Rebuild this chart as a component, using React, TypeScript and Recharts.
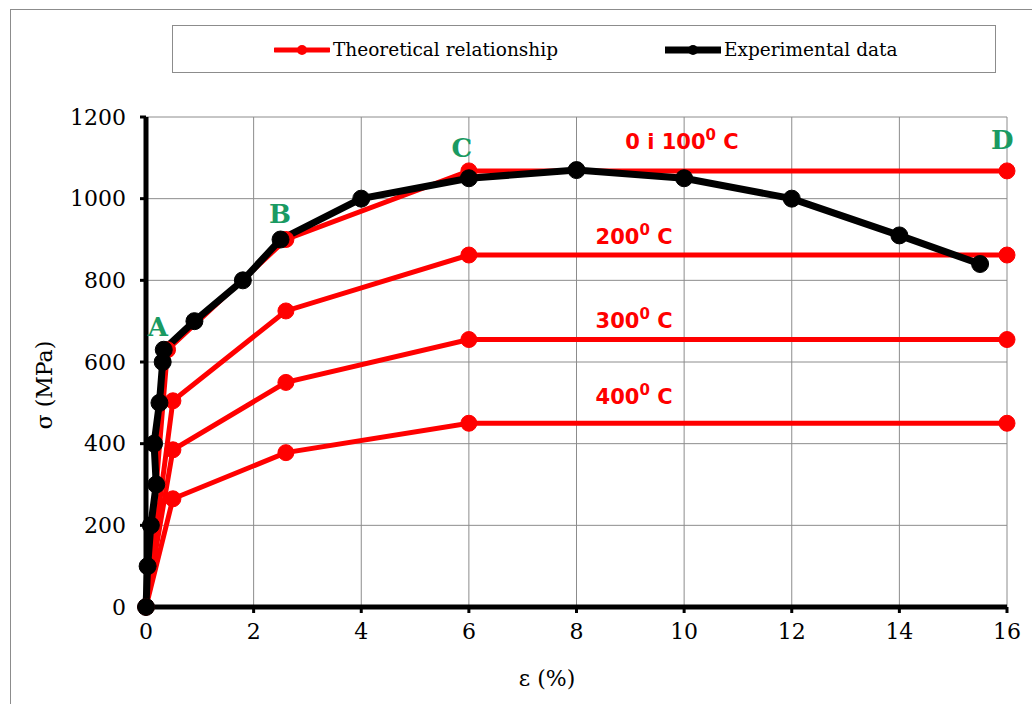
import {
  LineChart, Line, XAxis, YAxis, CartesianGrid, ReferenceDot,
} from 'recharts';

// strain (%) / stress (MPa)
const expStrain = [0, 0.03, 0.09, 0.19, 0.15, 0.25, 0.31, 0.33, 0.9, 1.8, 2.5, 4, 6, 8, 10, 12, 14, 15.5];
const expStress = [0, 100, 200, 300, 400, 500, 600, 630, 700, 800, 900, 1000, 1050, 1070, 1050, 1000, 910, 840];

const theoStrain100 = [0, 0.4, 2.6, 6, 16];
const theoStress100 = [0, 630, 900, 1068, 1068];
const theoStrain = [0, 0.5, 2.6, 6, 16];
const theoStress200 = [0, 505, 725, 862, 862];
const theoStress300 = [0, 385, 550, 655, 655];
const theoStress400 = [0, 265, 378, 450, 450];

const xTicks = [0, 2, 4, 6, 8, 10, 12, 14, 16];
const yTicks = [0, 200, 400, 600, 800, 1000, 1200];

const pointLabels = [
  { text: 'A', x: 0.22, y: 686 },
  { text: 'B', x: 2.49, y: 962 },
  { text: 'C', x: 5.87, y: 1124 },
  { text: 'D', x: 15.91, y: 1144 },
];
const tempLabels = [
  { main: '0 i 100', x: 9.96, y: 1139 },
  { main: '200', x: 9.07, y: 906 },
  { main: '300', x: 9.07, y: 700 },
  { main: '400', x: 9.07, y: 514 },
];

const toRows = (xs: number[], ys: number[]) => xs.map((x, i) => ({ x, y: ys[i] }));

const expData = toRows(expStrain, expStress);
const theoSeries = [
  toRows(theoStrain100, theoStress100),
  toRows(theoStrain, theoStress200),
  toRows(theoStrain, theoStress300),
  toRows(theoStrain, theoStress400),
];

const RED = '#ff0000';
const GREEN = '#1a9a62';
const SERIF = '"DejaVu Serif", serif';
const SANS = '"DejaVu Sans", Verdana, sans-serif';

// eslint-disable-next-line @typescript-eslint/no-explicit-any
const pointLabelShape = (text: string) => (p: any) => (
  <text x={p.cx} y={p.cy} textAnchor="middle" dominantBaseline="central"
    fontFamily={SERIF} fontWeight={700} fontSize={26} fill={GREEN}>{text}</text>
);

// eslint-disable-next-line @typescript-eslint/no-explicit-any
const tempLabelShape = (main: string) => (p: any) => (
  <text x={p.cx} y={p.cy} textAnchor="middle" dominantBaseline="central"
    fontFamily={SANS} fontWeight={700} fontSize={21} fill={RED}>
    {main}
    <tspan fontSize={15} dy={-7}>0</tspan>
    <tspan dy={7}> C</tspan>
  </text>
);

function LegendMark({ color, width }: { color: string; width: number }) {
  return (
    <svg width={56} height={20} style={{ display: 'block' }}>
      <line x1={1} y1={10} x2={55} y2={10} stroke={color} strokeWidth={width} strokeLinecap="round" />
      <circle cx={28} cy={10} r={5} fill={color} />
    </svg>
  );
}

export default function App() {
  return (
    <div style={{ position: 'fixed', left: 0, top: 0, width: 1032, height: 704, background: '#fff', overflow: 'hidden' }}>
      <div style={{
        position: 'absolute', left: 10, top: 9, width: 1100, height: 800,
        borderLeft: '1px solid #8c8c8c', borderTop: '1px solid #8c8c8c',
      }} />
      <div style={{ position: 'absolute', left: 0, top: 0 }}>
        <LineChart width={1032} height={704} margin={{ top: 117, right: 25, left: 86, bottom: 17 }}>
          <CartesianGrid stroke="#8c8c8c" strokeWidth={1} />
          <XAxis
            type="number" dataKey="x" domain={[0, 16]} ticks={xTicks} height={80}
            axisLine={{ stroke: '#000', strokeWidth: 5 }}
            tickLine={{ stroke: '#000', strokeWidth: 3 }}
            tickSize={6} tickMargin={10}
            tick={{ fontFamily: SERIF, fontSize: 22, fill: '#000' }}
          />
          <YAxis
            type="number" dataKey="y" domain={[0, 1200]} ticks={yTicks} width={60}
            axisLine={{ stroke: '#000', strokeWidth: 5 }}
            tickLine={{ stroke: '#000', strokeWidth: 3 }}
            tickSize={6} tickMargin={14}
            tick={{ fontFamily: SERIF, fontSize: 22, fill: '#000' }}
          />
          {theoSeries.map((d, i) => (
            <Line
              key={i} data={d} dataKey="y" type="linear"
              stroke={RED} strokeWidth={5}
              dot={{ r: 8, fill: RED, stroke: RED, strokeWidth: 1 }}
              activeDot={false} isAnimationActive={false}
            />
          ))}
          <Line
            data={expData} dataKey="y" type="linear"
            stroke="#000" strokeWidth={7}
            dot={{ r: 8.5, fill: '#000', stroke: '#000', strokeWidth: 1 }}
            activeDot={false} isAnimationActive={false}
          />
          {pointLabels.map(l => (
            <ReferenceDot key={l.text} x={l.x} y={l.y} r={0} shape={pointLabelShape(l.text)} />
          ))}
          {tempLabels.map(l => (
            <ReferenceDot key={l.main} x={l.x} y={l.y} r={0} shape={tempLabelShape(l.main)} />
          ))}
        </LineChart>
      </div>
      <div style={{
        position: 'absolute', left: 172, top: 25, width: 822, height: 46,
        border: '1px solid #8c8c8c', background: '#fff', fontFamily: SERIF, fontSize: 18.5,
      }}>
        <div style={{ position: 'absolute', left: 101, top: 13, display: 'flex', alignItems: 'center' }}>
          <LegendMark color={RED} width={5} />
          <span style={{ marginLeft: 3 }}>Theoretical relationship</span>
        </div>
        <div style={{ position: 'absolute', left: 492, top: 13, display: 'flex', alignItems: 'center' }}>
          <LegendMark color="#000" width={7} />
          <span style={{ marginLeft: 3 }}>Experimental data</span>
        </div>
      </div>
      <div style={{
        position: 'absolute', left: 547, top: 678, transform: 'translate(-50%, -50%)',
        fontFamily: SERIF, fontSize: 22, whiteSpace: 'nowrap',
      }}>ε (%)</div>
      <div style={{
        position: 'absolute', left: 44, top: 385, transform: 'translate(-50%, -50%) rotate(-90deg)',
        fontFamily: SERIF, fontSize: 22, whiteSpace: 'nowrap',
      }}>σ (MPa)</div>
    </div>
  );
}
